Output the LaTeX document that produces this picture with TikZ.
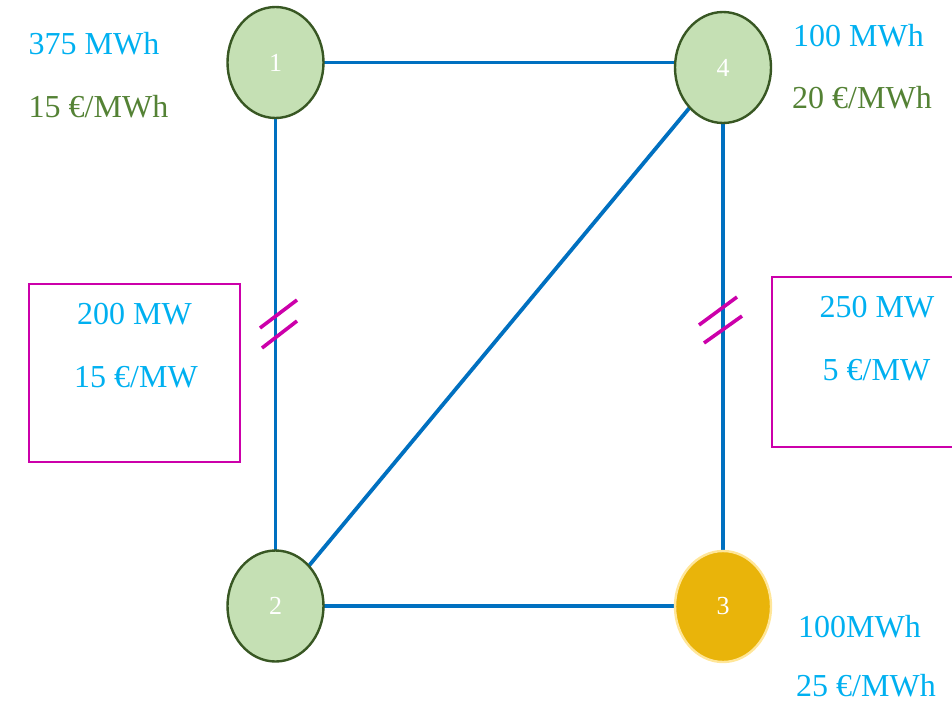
\documentclass[tikz,border=0pt]{standalone}
\usepackage{fontspec}
\setmainfont{Liberation Serif}
\usetikzlibrary{shapes.geometric,backgrounds}
\definecolor{linkblue}{RGB}{0,112,192}
\definecolor{capmag}{RGB}{204,0,170}
\definecolor{qtycyan}{RGB}{0,176,240}
\definecolor{pricegreen}{RGB}{84,130,53}
\definecolor{busfill}{RGB}{197,224,180}
\definecolor{busline}{RGB}{56,87,35}
\definecolor{loadfill}{RGB}{233,180,10}
\definecolor{loadline}{RGB}{255,230,153}
\tikzset{
  bus/.style={ellipse,draw=busline,fill=busfill,line width=2.4pt,
    minimum width=96pt,minimum height=111pt,inner sep=0pt,
    text=white,font=\fontsize{26}{30}\selectfont},
  loadbus/.style={bus,draw=loadline,fill=loadfill},
  link/.style={draw=linkblue,line width=3.8pt},
  cut/.style={draw=capmag,line width=3.6pt},
  capbox/.style={draw=capmag,line width=1.8pt,rectangle,inner sep=0pt},
  lbl/.style={anchor=base west,inner sep=0pt,font=\fontsize{32}{36}\selectfont},
  qty/.style={lbl,text=qtycyan},
  price/.style={lbl,text=pricegreen}
}
\begin{document}
\begin{tikzpicture}[x=1pt,y=-1pt]
\useasboundingbox (0,0) rectangle (952,704);
% buses
\node[bus] (n1) at (275.5,62.5) {1};
\node[bus] (n4) at (723,67.5) {4};
\node[bus] (n2) at (275.5,606) {2};
\node[loadbus] (n3) at (723,606.5) {3};
% lines between buses
\begin{scope}[on background layer]
  \draw[link] (n1.center) -- (n1.center -| n4.center);
  \draw[link] (n1.center) -- (n2.center);
  \draw[link] (n4.center |- n1.center) -- (n3.center);
  \draw[link] (n2.center) -- (n2.center -| n3.center);
  \draw[link] (n2.center) -- (n4.center);
\end{scope}
% congestion marks on the constrained lines
\draw[cut] (260,328) -- (297,300);
\draw[cut] (262,348) -- (297,321);
\draw[cut] (699,325) -- (737,297);
\draw[cut] (704,343) -- (742,316);
% line capacity boxes
\node[capbox,minimum width=211pt,minimum height=178pt] (capL) at (134.5,373) {};
\node[capbox,minimum width=200pt,minimum height=170pt] (capR) at (872,362) {};
\node[qty] (capL1) at (77,324) {200 MW};
\node[qty] (capL2) at (74,387) {15 €/MW};
\node[qty] (capR1) at (819.5,317) {250 MW};
\node[qty] (capR2) at (822.5,380) {5 €/MW};
% bus data
\node[qty] (q1) at (28.5,54) {375 MWh};
\node[price] (p1) at (28.5,117) {15 €/MWh};
\node[qty] (q4) at (793,46) {100 MWh};
\node[price] (p4) at (792,108) {20 €/MWh};
\node[qty] (q3) at (798,637) {100MWh};
\node[qty] (p3) at (796,696) {25 €/MWh};
\end{tikzpicture}
\end{document}
